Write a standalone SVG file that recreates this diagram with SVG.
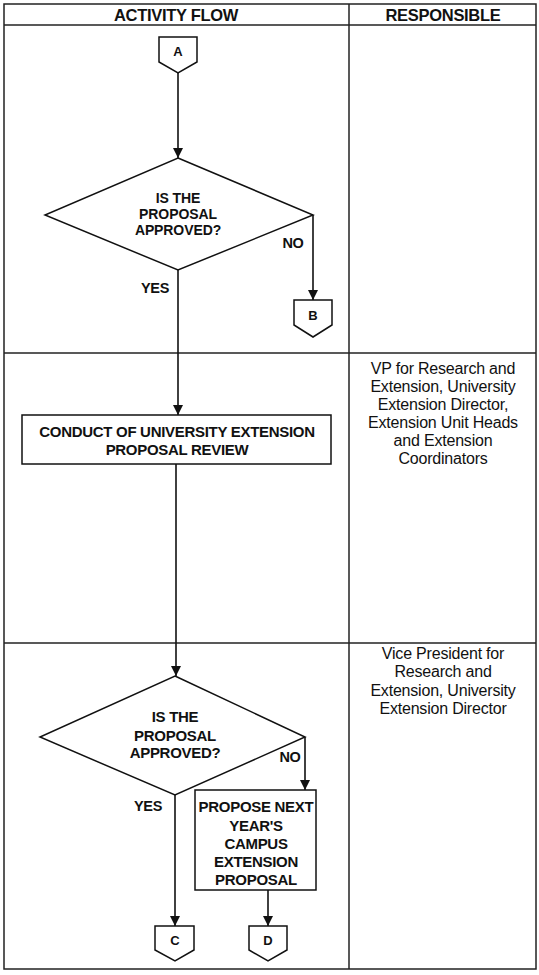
<svg xmlns="http://www.w3.org/2000/svg" width="539" height="975" viewBox="0 0 539 975">
<style>
.grid{stroke:#222;stroke-width:1.5;fill:none}
.shape{stroke:#111;stroke-width:1.5;fill:#fff}
.conn{stroke:#111;stroke-width:1.6;fill:none}
.h{font-family:"Liberation Sans",Arial,sans-serif;font-weight:bold;font-size:16.5px;fill:#111;text-anchor:middle;letter-spacing:-0.3px}
.t{font-family:"Liberation Sans",Arial,sans-serif;font-weight:bold;font-size:15px;fill:#111;text-anchor:middle;letter-spacing:-0.3px}
.d{font-family:"Liberation Sans",Arial,sans-serif;font-weight:bold;font-size:14px;fill:#111;text-anchor:middle;letter-spacing:-0.1px}
.r{font-family:"Liberation Sans",Arial,sans-serif;font-size:16px;fill:#111;text-anchor:middle;letter-spacing:-0.2px}
.c{font-family:"Liberation Sans",Arial,sans-serif;font-weight:bold;font-size:13px;fill:#111;text-anchor:middle}
.l{font-family:"Liberation Sans",Arial,sans-serif;font-weight:bold;font-size:14.5px;fill:#111;text-anchor:middle;letter-spacing:-0.3px}
</style>
<defs>
<marker id="ah" viewBox="0 0 10 10" refX="10" refY="5" markerWidth="10" markerHeight="10" markerUnits="userSpaceOnUse" orient="auto">
<path d="M0,0 L10,5 L0,10 z" fill="#111"/>
</marker>
</defs>
<rect width="539" height="975" fill="#fff"/>
<g id="table">
<rect class="grid" x="4" y="4" width="532" height="965"/>
<line class="grid" x1="349" y1="4" x2="349" y2="969"/>
<line class="grid" x1="4" y1="25" x2="536" y2="25"/>
<line class="grid" x1="4" y1="353" x2="536" y2="353"/>
<line class="grid" x1="4" y1="643" x2="536" y2="643"/>
<text class="h" x="176" y="21">ACTIVITY FLOW</text>
<text class="h" x="443" y="21">RESPONSIBLE</text>
</g>
<g id="connectors">
<line class="conn" x1="178" y1="73" x2="178" y2="158" marker-end="url(#ah)"/>
<polyline class="conn" points="313,215 313,300" marker-end="url(#ah)"/>
<line class="conn" x1="178" y1="270" x2="178" y2="415" marker-end="url(#ah)"/>
<line class="conn" x1="176" y1="464" x2="176" y2="676" marker-end="url(#ah)"/>
<line class="conn" x1="305" y1="737" x2="305" y2="790" marker-end="url(#ah)"/>
<line class="conn" x1="175" y1="795" x2="175" y2="926" marker-end="url(#ah)"/>
<line class="conn" x1="268" y1="890" x2="268" y2="926" marker-end="url(#ah)"/>
<text class="l" x="293" y="248">NO</text>
<text class="l" x="155" y="293">YES</text>
<text class="l" x="290" y="762">NO</text>
<text class="l" x="148" y="811">YES</text>
</g>
<g id="conA">
<path class="shape" d="M159,37 H197 V62 L178,73 L159,62 Z"/>
<text class="c" x="178" y="56">A</text>
</g>
<g id="dec1">
<path class="shape" d="M178,158 L313,215 L178,270 L45,215 Z"/>
<text class="d" x="178" y="203">IS THE</text>
<text class="d" x="178" y="219">PROPOSAL</text>
<text class="d" x="178" y="235">APPROVED?</text>
</g>
<g id="conB">
<path class="shape" d="M294,300 H332 V325 L313,337 L294,325 Z"/>
<text class="c" x="313" y="320">B</text>
</g>
<g id="proc1">
<rect class="shape" x="22" y="415" width="309" height="49"/>
<text class="t" x="177" y="437">CONDUCT OF UNIVERSITY EXTENSION</text>
<text class="t" x="177" y="455">PROPOSAL REVIEW</text>
</g>
<g id="resp1">
<text class="r" x="443" y="374">VP for Research and</text>
<text class="r" x="443" y="392">Extension, University</text>
<text class="r" x="443" y="410">Extension Director,</text>
<text class="r" x="443" y="428">Extension Unit Heads</text>
<text class="r" x="443" y="446">and Extension</text>
<text class="r" x="443" y="464">Coordinators</text>
</g>
<g id="dec2">
<path class="shape" d="M175,676 L305,737 L175,795 L40,737 Z"/>
<text class="t" x="175" y="722">IS THE</text>
<text class="t" x="175" y="741">PROPOSAL</text>
<text class="t" x="175" y="758">APPROVED?</text>
</g>
<g id="proc2">
<rect class="shape" x="195" y="790" width="121" height="100"/>
<text class="t" x="256" y="812">PROPOSE NEXT</text>
<text class="t" x="256" y="831">YEAR'S</text>
<text class="t" x="256" y="849">CAMPUS</text>
<text class="t" x="256" y="867">EXTENSION</text>
<text class="t" x="256" y="885">PROPOSAL</text>
</g>
<g id="resp2">
<text class="r" x="443" y="659">Vice President for</text>
<text class="r" x="443" y="677">Research and</text>
<text class="r" x="443" y="696">Extension, University</text>
<text class="r" x="443" y="714">Extension Director</text>
</g>
<g id="conC">
<path class="shape" d="M155,926 H194 V950 L175,961 L155,950 Z"/>
<text class="c" x="175" y="945">C</text>
</g>
<g id="conD">
<path class="shape" d="M249,926 H287 V950 L268,961 L249,950 Z"/>
<text class="c" x="268" y="945">D</text>
</g>
</svg>
